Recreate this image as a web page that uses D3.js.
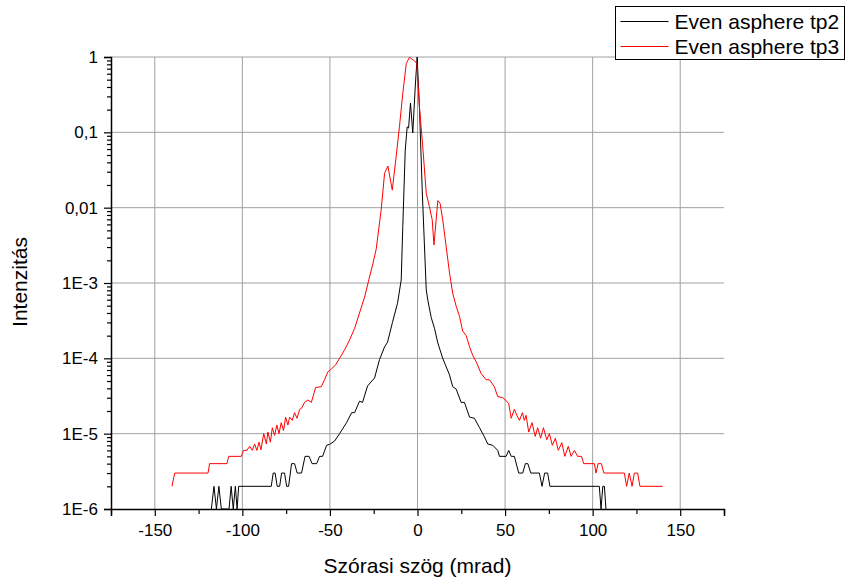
<!DOCTYPE html>
<html>
<head>
<meta charset="utf-8">
<script src="https://cdn.jsdelivr.net/npm/d3@7"></script>
<style>
  body { margin: 0; background: #fff; }
  svg { display: block; font-family: "Liberation Sans", Arial, sans-serif; }
  .grid line { stroke: #a0a0a0; stroke-width: 1; }
</style>
</head>
<body>
<svg id="chart" width="846" height="579"></svg>
<script>
// scattering angle (mrad), intensity
const tp2Points = [
	[-117.7,1e-6],[-116.2,2e-6],[-114.8,1e-6],[-113.4,2e-6],[-112.0,1e-6],[-107.6,1e-6],[-106.4,2e-6],
	[-105.2,1e-6],[-104.0,2e-6],[-103.0,1e-6],[-102.1,2e-6],[-83.5,2e-6],[-82.4,3e-6],[-81.3,3e-6],
	[-80.1,2e-6],[-78.7,2e-6],[-77.6,3e-6],[-75.9,3e-6],[-74.7,2e-6],[-73.6,2e-6],[-71.9,4e-6],
	[-70.2,4e-6],[-68.7,3e-6],[-66.2,3e-6],[-64.2,5e-6],[-61.9,5e-6],[-60.2,4e-6],[-57.6,4e-6],
	[-55.9,5e-6],[-54.2,5e-6],[-51.9,7e-6],[-50.2,7.2e-6],[-47.3,8e-6],[-44.5,1e-5],[-40.5,1.4e-5],
	[-37.6,1.9e-5],[-35.9,1.9e-5],[-33.1,2.7e-5],[-31.4,2.6e-5],[-28.5,4.3e-5],[-24.5,5.5e-5],
	[-21.7,9.6e-5],[-18.8,1.42e-4],[-17.1,1.64e-4],[-14.3,3.0e-4],[-11.4,5.4e-4],[-9.3,1.1e-3],
	[-8.4,5.6e-3],[-7.0,0.058],[-5.9,0.118],[-5.1,0.114],[-4.0,0.245],[-2.7,0.098],[-1.3,0.40],
	[-0.2,1.0],[1.1,0.217],[2.7,0.0171],[4.0,0.0030],[5.0,8.1e-4],[5.9,5.9e-4],[7.8,3.5e-4],
	[9.7,2.5e-4],[11.6,1.6e-4],[14.4,1.0e-4],[18.3,6.0e-5],[20.1,4.2e-5],[22.1,3.9e-5],[24.9,2.6e-5],
	[26.8,2.6e-5],[29.7,1.66e-5],[32.5,1.6e-5],[35.4,1.2e-5],[38.2,9.1e-6],[40.1,7.3e-6],[43.0,7e-6],
	[45.8,6e-6],[46.8,5e-6],[50.6,5e-6],[52.1,6e-6],[53.5,5e-6],[55.3,5e-6],[57.8,3e-6],[60.1,3e-6],
	[61.6,4e-6],[63.0,4e-6],[64.7,3e-6],[69.6,3e-6],[71.1,2e-6],[72.6,3e-6],[74.3,3e-6],[75.6,2e-6],
	[103.8,2e-6],[104.8,1e-6],[105.8,2e-6],[106.7,2e-6],[107.6,1e-6]
];

const tp3Points = [
	[-140.2,2e-6],[-138.6,3e-6],[-119.6,3e-6],[-118.7,4e-6],[-108.8,4e-6],[-107.8,5e-6],[-100.6,5e-6],
	[-99.3,6e-6],[-97.4,6e-6],[-95.8,6.8e-6],[-94.3,6e-6],[-93.0,7.3e-6],[-91.7,6e-6],[-90.5,7.7e-6],
	[-89.4,6.1e-6],[-87.8,1.0e-5],[-86.3,7.3e-6],[-85.4,1.05e-5],[-84.0,7.7e-6],[-82.9,1.2e-5],
	[-81.6,9.5e-6],[-80.3,1.3e-5],[-79.1,1.0e-5],[-77.8,1.4e-5],[-76.5,1.1e-5],[-75.3,1.66e-5],
	[-74.0,1.3e-5],[-73.0,1.66e-5],[-71.5,1.5e-5],[-70.2,1.9e-5],[-68.8,1.6e-5],[-67.3,2.1e-5],
	[-66.0,2.2e-5],[-64.5,2.6e-5],[-62.6,2.8e-5],[-60.6,2.6e-5],[-58.2,4.1e-5],[-54.9,4.2e-5],
	[-53.1,5.2e-5],[-51.2,6.6e-5],[-49.2,7.2e-5],[-46.8,8.2e-5],[-44.5,1.0e-4],[-41.6,1.3e-4],
	[-38.8,1.75e-4],[-35.9,2.5e-4],[-33.1,4.0e-4],[-30.2,6.5e-4],[-27.8,1.1e-3],[-25.5,1.8e-3],
	[-23.6,2.8e-3],[-20.7,0.0095],[-18.8,0.0286],[-16.9,0.0357],[-14.4,0.0171],[-12.2,0.0476],
	[-10.3,0.119],[-8.4,0.33],[-6.4,0.82],[-4.6,0.99],[-1.7,0.89],[-0.4,0.82],[1.1,0.22],[3.0,0.0645],
	[5.0,0.0155],[6.8,0.0103],[8.4,0.0069],[9.4,0.0032],[11.6,0.0124],[12.9,0.0114],[14.4,0.0069],
	[16.4,0.0030],[18.3,0.00135],[20.1,7.3e-4],[22.1,4.9e-4],[24.0,3.6e-4],[25.8,2.3e-4],[27.8,2.0e-4],
	[29.7,1.43e-4],[31.5,1.1e-4],[33.5,9.0e-5],[36.3,6.3e-5],[39.2,5.2e-5],[41.1,5.2e-5],[43.9,4.2e-5],
	[45.8,3.1e-5],[48.7,3.0e-5],[50.9,2.7e-5],[52.1,2.5e-5],[53.5,1.6e-5],[55.3,2.1e-5],[57.2,1.66e-5],
	[58.2,1.5e-5],[59.9,1.9e-5],[61.0,1.5e-5],[62.0,1.75e-5],[63.5,1.05e-5],[65.4,1.4e-5],[67.2,9.2e-6],
	[68.6,1.2e-5],[70.3,8.7e-6],[71.9,1.2e-5],[73.8,8.3e-6],[75.3,1.0e-5],[77.0,7e-6],[78.7,8.7e-6],
	[80.4,6e-6],[82.4,7.6e-6],[84.1,5e-6],[86.1,6.8e-6],[87.7,5e-6],[89.6,6e-6],[91.4,5e-6],[93.6,5e-6],
	[94.9,4e-6],[101.0,4e-6],[101.9,3e-6],[103.1,4e-6],[105.0,4e-6],[106.4,3e-6],[118.1,3e-6],
	[119.4,2e-6],[120.9,3e-6],[122.5,2e-6],[123.8,3e-6],[125.7,3e-6],[127.0,2e-6],[140.0,2e-6]
];

const seriesNames = ['Even asphere tp2', 'Even asphere tp3'];
const seriesColors = ['#000000', '#ff0000'];
const xTicks = [-150, -100, -50, 0, 50, 100, 150];
const xMinorTicks = [-175, -125, -75, -25, 25, 75, 125, 175];
const yTicks = [1, 0.1, 0.01, 1e-3, 1e-4, 1e-5, 1e-6];
const yTickLabels = ['1', '0,1', '0,01', '1E-3', '1E-4', '1E-5', '1E-6'];

const svg = d3.select('#chart');
const margin = { top: 57, left: 111 };
const width = 613;
const height = 452;

const x = d3.scaleLinear().domain([-175, 175]).range([0, width]);
const y = d3.scaleLog().domain([1e-6, 1]).range([height, 0]);

const g = svg.append('g')
	.attr('transform', `translate(${margin.left},${margin.top})`);

// grid
const grid = g.append('g').attr('class', 'grid');
grid.selectAll('.vg')
	.data(xTicks)
	.enter().append('line')
	.attr('x1', d => x(d)).attr('x2', d => x(d))
	.attr('y1', 0).attr('y2', height);
grid.selectAll('.hg')
	.data(yTicks.slice(0, -1))
	.enter().append('line')
	.attr('x1', 0).attr('x2', width)
	.attr('y1', d => y(d)).attr('y2', d => y(d));

g.append('clipPath').attr('id', 'clip')
	.append('rect').attr('x', 0).attr('y', -2).attr('width', width).attr('height', height + 2);

const line = d3.line()
	.x(d => x(d[0]))
	.y(d => y(d[1]));

[tp2Points, tp3Points].forEach((pts, i) => {
	g.append('path')
		.datum(pts)
		.attr('clip-path', 'url(#clip)')
		.attr('fill', 'none')
		.attr('stroke', seriesColors[i])
		.attr('stroke-width', 1)
		.attr('d', line);
});

// x axis
g.append('g')
	.attr('transform', `translate(0,${height})`)
	.call(d3.axisBottom(x).tickValues(xTicks).tickSize(7).tickPadding(8).tickFormat(d => String(d)));
g.append('g')
	.attr('transform', `translate(0,${height})`)
	.call(d3.axisBottom(x).tickValues(xMinorTicks).tickSize(5).tickFormat(''))
	.select('.domain').remove();

// y axis
const yMinor = [];
for (let e = -6; e < 0; e++) for (let m = 2; m <= 9; m++) yMinor.push(m * Math.pow(10, e));
g.append('g')
	.call(d3.axisLeft(y).tickValues(yTicks).tickSize(7).tickPadding(6)
		.tickFormat((d, i) => yTickLabels[i]));
g.append('g')
	.call(d3.axisLeft(y).tickValues(yMinor).tickSize(4).tickFormat(''))
	.select('.domain').remove();

g.selectAll('.domain').attr('stroke', '#000').attr('stroke-width', 1.5);
g.selectAll('.tick line').attr('stroke', '#000').attr('stroke-width', 1.2);
g.selectAll('.tick text')
	.attr('fill', '#000')
	.style('font-size', '17px')
	.style('font-family', '"Liberation Sans", Arial, sans-serif');

// axis titles
svg.append('text')
	.attr('x', margin.left + x(0))
	.attr('y', 573)
	.attr('text-anchor', 'middle')
	.style('font-size', '21px')
	.text('Szórasi szög (mrad)');

svg.append('text')
	.attr('transform', `translate(27,${margin.top + height / 2 - 1}) rotate(-90)`)
	.attr('text-anchor', 'middle')
	.style('font-size', '21px')
	.text('Intenzitás');

// legend
const legend = svg.append('g').attr('transform', 'translate(615.5,6.5)');
legend.append('rect')
	.attr('width', 229).attr('height', 53)
	.attr('fill', '#fff').attr('stroke', '#000').attr('stroke-width', 1);
seriesNames.forEach((name, i) => {
	const row = legend.append('g').attr('transform', `translate(0,${15 + i * 25})`);
	row.append('line')
		.attr('x1', 5).attr('x2', 53)
		.attr('stroke', seriesColors[i]).attr('stroke-width', 1);
	row.append('text')
		.attr('x', 59).attr('y', 7.5)
		.style('font-size', '21px')
		.text(name);
});
</script>
</body>
</html>
